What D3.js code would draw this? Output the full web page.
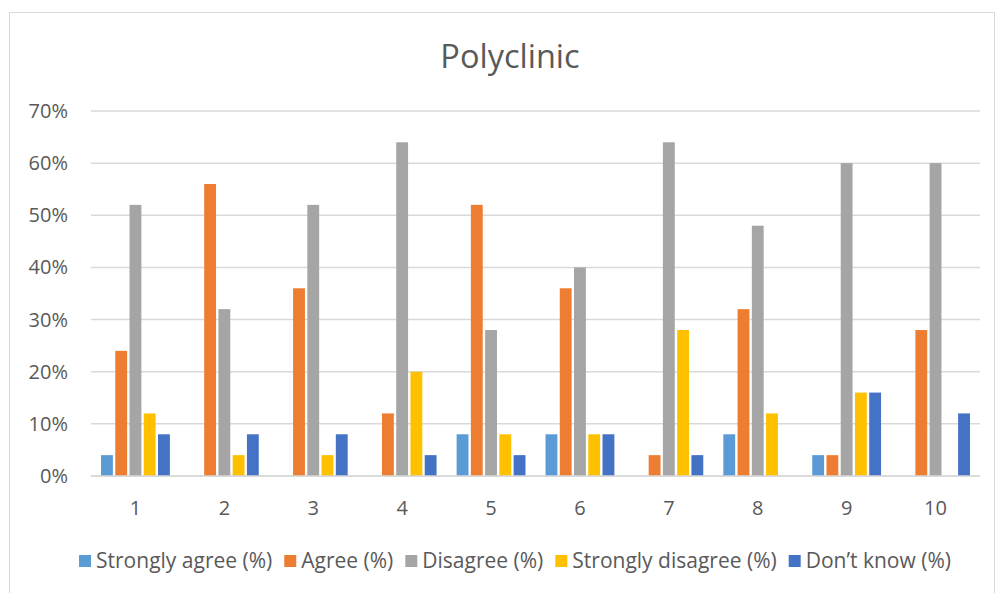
<!DOCTYPE html>
<html><head><meta charset="utf-8">
<script src="https://cdn.jsdelivr.net/npm/d3@7"></script>
<style>body{margin:0;background:#fff}svg{display:block}text{font-family:"Open Sans",Lato,sans-serif}</style>
</head><body><svg id="c" width="995" height="593"></svg>
<script>
const categories = ["1","2","3","4","5","6","7","8","9","10"];
const seriesNames = ["Strongly agree (%)","Agree (%)","Disagree (%)","Strongly disagree (%)","Don\u2019t know (%)"];
const stronglyAgree = [4,0,0,0,8,8,0,8,4,0];
const agree = [24,56,36,12,52,36,4,32,4,28];
const disagree = [52,32,52,64,28,40,64,48,60,60];
const stronglyDisagree = [12,4,4,20,8,8,28,12,16,0];
const dontKnow = [8,8,8,4,4,8,4,0,16,12];
const yTicks = [0,10,20,30,40,50,60,70];
const colors = ["#5B9BD5","#ED7D31","#A5A5A5","#FFC000","#4472C4"];

(function(){
const series = [stronglyAgree, agree, disagree, stronglyDisagree, dontKnow];
const svg = d3.select("#c");
svg.append("rect").attr("x",9.5).attr("y",12.5).attr("width",985).attr("height",600)
  .attr("fill","#fff").attr("stroke","#d9d9d9").attr("stroke-width",1);

const pLeft=91, pRight=980, pTop=111, pBottom=476;
const x = d3.scaleBand().domain(categories).range([pLeft,pRight]).paddingInner(0).paddingOuter(0);
const y = d3.scaleLinear().domain([0,70]).range([pBottom,pTop]);
const inner = d3.scaleBand().domain(d3.range(5)).range([0, x.bandwidth()]).paddingOuter(0.62).paddingInner(0);

svg.append("text").attr("x",510).attr("y",68).attr("text-anchor","middle")
  .attr("font-size",32.5).attr("fill","#595959").text("Polyclinic");

const gy = svg.append("g");
yTicks.forEach(t=>{
  gy.append("line").attr("x1",pLeft).attr("x2",pRight).attr("y1",y(t)).attr("y2",y(t))
    .attr("stroke","#d9d9d9").attr("stroke-width",1.5);
  gy.append("text").attr("x",68).attr("y",y(t)).attr("dy","0.35em").attr("text-anchor","end")
    .attr("font-size",20).attr("fill","#595959").text(t+"%");
});

series.forEach((vals,si)=>{
  svg.append("g").selectAll("rect").data(vals).join("rect")
    .attr("x",(d,i)=>x(categories[i])+inner(si)+1.2)
    .attr("width",inner.bandwidth()-2.4)
    .attr("y",d=>y(d)).attr("height",d=>y(0)-y(d))
    .attr("fill",colors[si]);
});
svg.append("line").attr("x1",pLeft).attr("x2",pRight).attr("y1",y(0)).attr("y2",y(0))
  .attr("stroke","#d9d9d9").attr("stroke-width",1.5);

svg.append("g").selectAll("text").data(categories).join("text")
  .attr("x",d=>x(d)+x.bandwidth()/2).attr("y",508).attr("dy","0.35em").attr("text-anchor","middle")
  .attr("font-size",20).attr("fill","#595959").text(d=>d);

const lg = svg.append("g");
const items = seriesNames.map((n,i)=>{
  const g = lg.append("g");
  g.append("rect").attr("x",0).attr("y",-6).attr("width",12).attr("height",12).attr("fill",colors[i]);
  const t = g.append("text").attr("x",17).attr("y",0).attr("dy","0.35em").attr("font-size",21)
    .attr("fill","#595959").text(n);
  return {g, w: 17 + t.node().getComputedTextLength()};
});
const gap = 12;
const total = d3.sum(items,d=>d.w) + gap*(items.length-1);
let cx = 515 - total/2;
items.forEach(it=>{ it.g.attr("transform",`translate(${cx},561)`); cx += it.w + gap; });
})();
</script></body></html>
